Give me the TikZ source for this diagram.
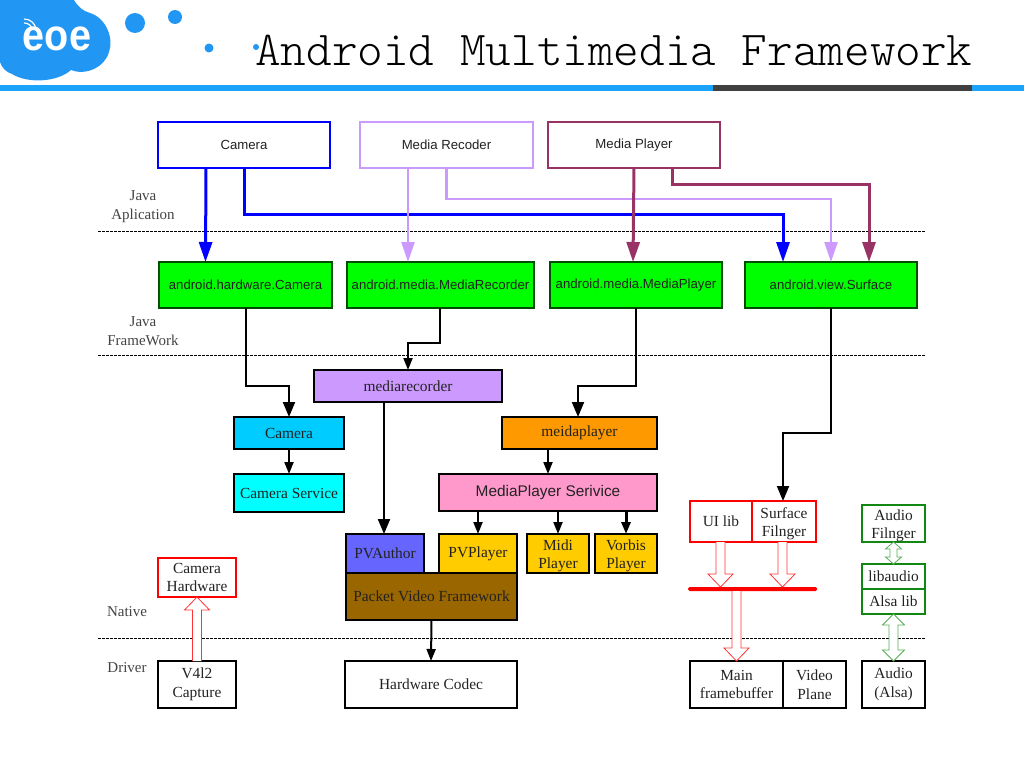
\documentclass[tikz,border=0pt]{standalone}
\usepackage{fontspec}
\setmainfont{Liberation Serif}
\setsansfont{Liberation Sans}
\newfontfamily\titlefont{Latin Modern Mono Light}
\usetikzlibrary{arrows.meta,calc}
\definecolor{barblue}{HTML}{1AA5FB}
\definecolor{logoblue}{HTML}{2196F3}
\definecolor{inkc}{HTML}{222222}
\definecolor{lilac}{HTML}{CC99FF}
\definecolor{plum}{HTML}{993366}
\definecolor{dkgreen}{HTML}{118811}
\definecolor{skyc}{HTML}{00CCFF}
\definecolor{aquac}{HTML}{00FFFF}
\definecolor{orangec}{HTML}{FF9900}
\definecolor{pinkc}{HTML}{FF99CC}
\definecolor{violetc}{HTML}{6666FF}
\definecolor{goldc}{HTML}{FFCC00}
\definecolor{brownc}{HTML}{996600}
\newcommand{\bx}[7][]{%
  \pgfmathsetmacro{\bxw}{#5-#3}\pgfmathsetmacro{\bxh}{#6-#4}%
  \pgfmathsetmacro{\bxx}{(#3+#5)/2}\pgfmathsetmacro{\bxy}{(#4+#6)/2}%
  \node[#1,minimum width=\bxw pt,minimum height=\bxh pt] (#2) at (\bxx,\bxy) {#7};}
\newcommand{\dn}{\rule{0pt}{15pt}}
% hollow single arrow: colour, from, to
\newcommand{\holone}[3]{%
  \draw[line width=.8pt,draw=#1,fill=white,line join=miter] let \p1=#2,\p2=#3,\n1={ifthenelse(\y2>\y1,1,-1)} in
    (\x2-4.5pt,\y1) -- (\x2-4.5pt,{\y2-\n1*13pt}) -- (\x2-12.5pt,{\y2-\n1*13pt}) -- (\x2,\y2)
    -- (\x2+12.5pt,{\y2-\n1*13pt}) -- (\x2+4.5pt,{\y2-\n1*13pt}) -- (\x2+4.5pt,\y1);}
% hollow double arrow: colour, from, to, half shaft, head length, half head
\newcommand{\holtwo}[6]{%
  \draw[line width=.8pt,draw=#1,fill=white] let \p1=#2,\p2=#3,\n1={ifthenelse(\y2>\y1,1,-1)} in
    (\x2,\y1) -- (\x2+#6,{\y1+\n1*#5}) -- (\x2+#4,{\y1+\n1*#5}) -- (\x2+#4,{\y2-\n1*#5})
    -- (\x2+#6,{\y2-\n1*#5}) -- (\x2,\y2) -- (\x2-#6,{\y2-\n1*#5}) -- (\x2-#4,{\y2-\n1*#5})
    -- (\x2-#4,{\y1+\n1*#5}) -- (\x2-#6,{\y1+\n1*#5}) -- cycle;}
\tikzset{
  base/.style={draw,rectangle,inner sep=0pt,outer sep=0pt,text=inkc,align=center,line width=1.3pt},
  sf/.style={base,font=\sffamily\fontsize{13.2}{15}\selectfont},
  rm/.style={base,font=\rmfamily\fontsize{15.4}{18.5}\selectfont},
  outl/.style={line width=2.2pt},
  lbl/.style={font=\rmfamily\fontsize{15}{19}\selectfont,text=inkc!85!white,align=center,inner sep=0pt},
  bigconn/.style={line width=3pt,-{Triangle[length=20pt,width=13pt]}},
  conn/.style={line width=2pt,-{Triangle[length=15pt,width=12pt]}},
  smallconn/.style={line width=2pt,-{Triangle[length=12pt,width=9pt]}},
}
\begin{document}
\begin{tikzpicture}[x=1pt,y=-1pt]
\useasboundingbox (0,0) rectangle (1024,768);
% header logo
\fill[logoblue] (0,0) -- (74,0) .. controls (78,7) and (83,11) .. (90,13)
  .. controls (106,18) and (114,38) .. (109,52) .. controls (105,67) and (86,76) .. (71,70)
  .. controls (58,82) and (28,84) .. (12,74) .. controls (6,72) and (2,68) .. (0,62) -- cycle;
\node[font=\sffamily\bfseries\fontsize{44}{44}\selectfont,text=white,inner sep=0pt] (eoe) at (57,39) {\scalebox{.9}[1]{eoe}};
\draw[white,line width=1.2pt] (24,23) .. controls (28,23) and (31,25) .. (32,29);
\draw[white,line width=1.2pt] (24,19) .. controls (30,19) and (35,23) .. (36,29);
\fill[logoblue] (135,23) circle[radius=10];
\fill[logoblue] (175,17) circle[radius=7];
\fill[logoblue] (209,48) circle[radius=4.5];
\fill[logoblue] (256,47) circle[radius=3];
\node[anchor=base west,inner sep=0pt,font=\titlefont\fontsize{48.8}{50}\selectfont] (title) at (255,66) {Android Multimedia Framework};
\fill[barblue] (0,85) rectangle (1024,91);
\fill[black!75] (713,85) rectangle (972,91);
% layer lines
\coordinate (l1a) at (98,231); \coordinate (l1b) at (925,231);
\coordinate (l2a) at (98,355); \coordinate (l2b) at (925,355);
\coordinate (l3a) at (98,638); \coordinate (l3b) at (925,638);
\foreach \a/\b in {l1a/l1b,l2a/l2b,l3a/l3b}
  \draw[line width=.9pt,dash pattern=on 2.5pt off 1.5pt] (\a) -- (\b);
% layer labels
\node[lbl] (t1) at (143,207) {Java\\Aplication};
\node[lbl] (t2) at (143,331) {Java\\FrameWork};
\node[lbl] (t3) at (127,612) {Native};
\node[lbl] (t4) at (127,668) {Driver};
% top
\bx[sf,outl,draw=blue]{cam}{158}{122}{330}{168}{Camera}
\bx[sf,outl,draw=lilac]{rec}{360}{122}{533}{168}{Media Recoder}
\bx[sf,outl,draw=plum]{ply}{548}{122}{720}{168}{Media Player}
% green
\bx[sf,fill=green,draw=black!70!green]{ghw}{159}{262}{332}{308}{android.hardware.Camera}
\bx[sf,fill=green,draw=black!70!green]{grec}{347}{262}{534}{308}{android.media.MediaRecorder}
\bx[sf,fill=green,draw=black!70!green]{gply}{550}{262}{722}{308}{android.media.MediaPlayer}
\bx[sf,fill=green,draw=black!70!green]{gsurf}{745}{262}{917}{308}{android.view.Surface}
% middle
\bx[rm,fill=lilac]{mrec}{314}{370}{502}{402}{mediarecorder}
\bx[rm,fill=skyc]{ccam}{234}{417}{344}{449}{Camera}
\bx[rm,fill=aquac]{csrv}{234}{474}{344}{512}{Camera Service}
\bx[rm,fill=orangec]{mply}{502}{417}{657}{449}{meidaplayer}
\bx[sf,font=\sffamily\fontsize{15.4}{17}\selectfont,fill=pinkc]{msrv}{439}{474}{657}{511}{MediaPlayer Serivice}
\bx[rm,fill=violetc]{pva}{346}{534}{424}{573}{PVAuthor}
\bx[rm,fill=goldc]{pvp}{439}{534}{517}{573}{PVPlayer}
\bx[rm,fill=goldc]{midi}{527}{534}{589}{573}{\dn Midi\\Player}
\bx[rm,fill=goldc]{vorb}{595}{534}{657}{573}{\dn Vorbis\\Player}
\bx[rm,fill=brownc]{pvf}{346}{573}{517}{620}{Packet Video Framework}
\bx[rm,outl]{hwc}{345}{661}{517}{708}{Hardware Codec}
% left
\bx[rm,outl,draw=red]{chw}{158}{558}{236}{597}{Camera\\Hardware}
\bx[rm,outl]{v4l}{158}{661}{236}{708}{V4l2\\Capture}
% right
\bx[rm,outl,draw=red]{uil}{690}{501}{752}{542}{UI lib}
\bx[rm,outl,draw=red]{sfl}{752}{501}{816}{542}{\dn Surface\\Filnger}
\bx[rm,draw=none,fill=red,rounded corners=1.5pt]{rbar}{688}{587}{817}{591}{}
\bx[rm,outl]{mfb}{690}{661}{783}{708}{Main\\framebuffer}
\bx[rm,outl]{vpl}{783}{661}{846}{708}{Video\\Plane}
\bx[rm,outl,draw=dkgreen]{afl}{862}{505}{925}{542}{\dn Audio\\Filnger}
\bx[rm,outl,draw=dkgreen]{lau}{862}{564}{925}{589}{libaudio}
\bx[rm,outl,draw=dkgreen]{als}{862}{589}{925}{614}{Alsa lib}
\bx[rm,outl]{aud}{862}{661}{925}{708}{Audio\\(Alsa)}
% top connectors
\draw[bigconn,draw=blue] ([xshift=-38pt]cam.south) -- ([xshift=-40pt]ghw.north);
\draw[bigconn,draw=blue] (cam.south) -- ++(0,46) -| ([xshift=-48pt]gsurf.north);
\draw[bigconn,line width=2.4pt,draw=lilac] ([xshift=-38.5pt]rec.south) -- ([xshift=-32.5pt]grec.north);
\draw[bigconn,line width=2.4pt,draw=lilac] (rec.south) -- ++(0,31) -| (gsurf.north);
\draw[bigconn,draw=plum] (ply.south) -- ([xshift=-3pt]gply.north);
\draw[bigconn,draw=plum] ([xshift=38pt]ply.south) -- ++(0,16) -| ([xshift=38pt]gsurf.north);
% black connectors
\draw[conn] (ghw.south) -- ++(0,78) -| (ccam.north);
\draw[smallconn] ([xshift=-.5pt]grec.south) -- ++(0,35) -| (mrec.north);
\draw[conn] ([xshift=-24pt]mrec.south) -- ([xshift=-1pt]pva.north);
\draw[conn] (gply.south) -- ++(0,78) -| ([xshift=-1.5pt]mply.north);
\draw[conn] (gsurf.south) -- ++(0,125) -| ([xshift=-1pt]sfl.north);
\draw[smallconn] (ccam.south) -- (csrv.north);
\draw[smallconn] ([xshift=-31.5pt]mply.south) -- (msrv.north);
\draw[smallconn] ([xshift=-70pt]msrv.south) -- (pvp.north);
\draw[smallconn] ([xshift=10pt]msrv.south) -- (midi.north);
\draw[smallconn,line width=3pt] ([xshift=78pt]msrv.south) -- (vorb.north);
\draw[smallconn] (pvf.south) -- (hwc.north);
% hollow arrows
\holone{red!80!white}{(v4l.north)}{(chw.south)}
\holone{red!80!white}{(uil.south)}{([xshift=-32pt]rbar.north)}
\holone{red!80!white}{(sfl.south)}{([xshift=30pt]rbar.north)}
\holone{red!80!white}{([xshift=-16pt]rbar.south)}{(mfb.north)}
\holtwo{dkgreen!70!white}{(afl.south)}{(lau.north)}{3.5pt}{7pt}{8pt}
\holtwo{dkgreen!70!white}{(als.south)}{(aud.north)}{4.5pt}{11pt}{11pt}
\end{tikzpicture}
\end{document}
